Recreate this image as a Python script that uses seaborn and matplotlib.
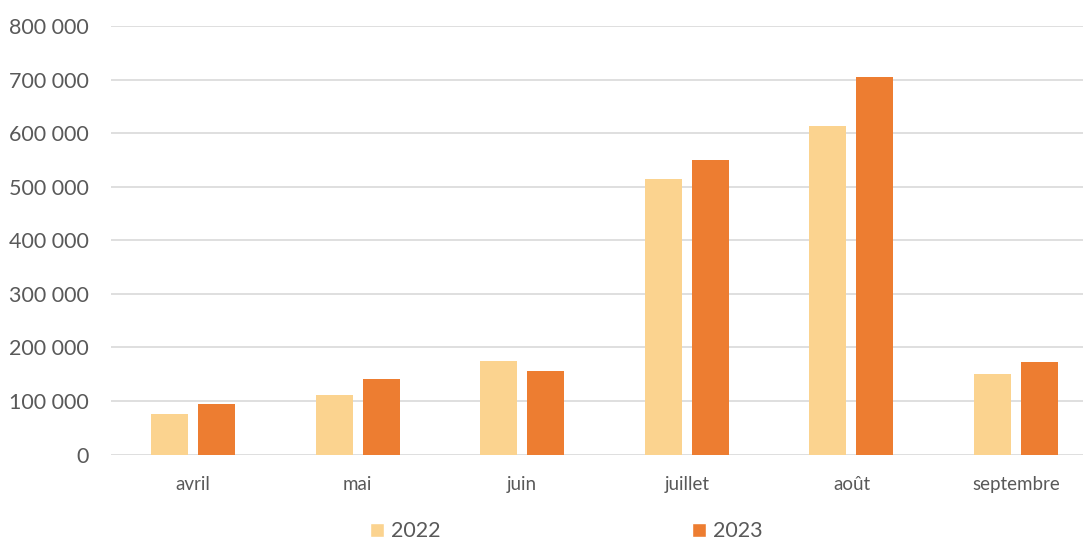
import numpy as np
import pandas as pd
import matplotlib.pyplot as plt
import seaborn as sns
from matplotlib.patches import Patch
from matplotlib.ticker import FuncFormatter

months = ["avril", "mai", "juin", "juillet", "août", "septembre"]
years = ["2022", "2023"]
values_2022 = [75000, 111000, 175000, 514000, 613000, 150000]
values_2023 = [95000, 141000, 157000, 550000, 705000, 172000]

colors = {"2022": "#FBD38F", "2023": "#ED7D31"}
text_color = "#595959"

df = pd.DataFrame({
    "mois": months * 2,
    "annee": ["2022"] * len(months) + ["2023"] * len(months),
    "valeur": values_2022 + values_2023,
})

sns.set_theme(style="white")
plt.rcParams["font.family"] = ["Lato", "DejaVu Sans"]

fig = plt.figure(figsize=(10.83, 5.40), dpi=100)
ax = fig.add_axes([0.1022, 0.158, 0.912, 0.794])

sns.barplot(data=df, x="mois", y="valeur", hue="annee",
            palette=colors, hue_order=years, order=months,
            width=0.571, gap=0.213, ax=ax, legend=False,
            saturation=1, linewidth=0)

ax.set_xlim(-0.5, 5.5)
ax.set_ylim(0, 800000)
ax.set_yticks(np.arange(0, 800001, 100000))
ax.yaxis.set_major_formatter(
    FuncFormatter(lambda v, p: f"{int(v):,}".replace(",", " ")))
ax.grid(axis="y", color="#D9D9D9", linewidth=1.2)
ax.set_axisbelow(True)
for s in ax.spines.values():
    s.set_visible(False)
ax.set_xlabel("")
ax.set_ylabel("")
ax.tick_params(axis="y", labelsize=15.5, colors=text_color,
               length=0, pad=16)
ax.tick_params(axis="x", labelsize=13.5, colors=text_color,
               length=0, pad=15)

handles = [Patch(facecolor=colors[y], label=y) for y in years]
fig.legend(handles=handles, loc="center", ncol=2,
           bbox_to_anchor=(0.523, 0.016), frameon=False,
           fontsize=15.5, labelcolor=text_color,
           handlelength=0.65, handleheight=0.65,
           handletextpad=0.3, columnspacing=11.7)

fig.savefig("out.png", dpi=100)
